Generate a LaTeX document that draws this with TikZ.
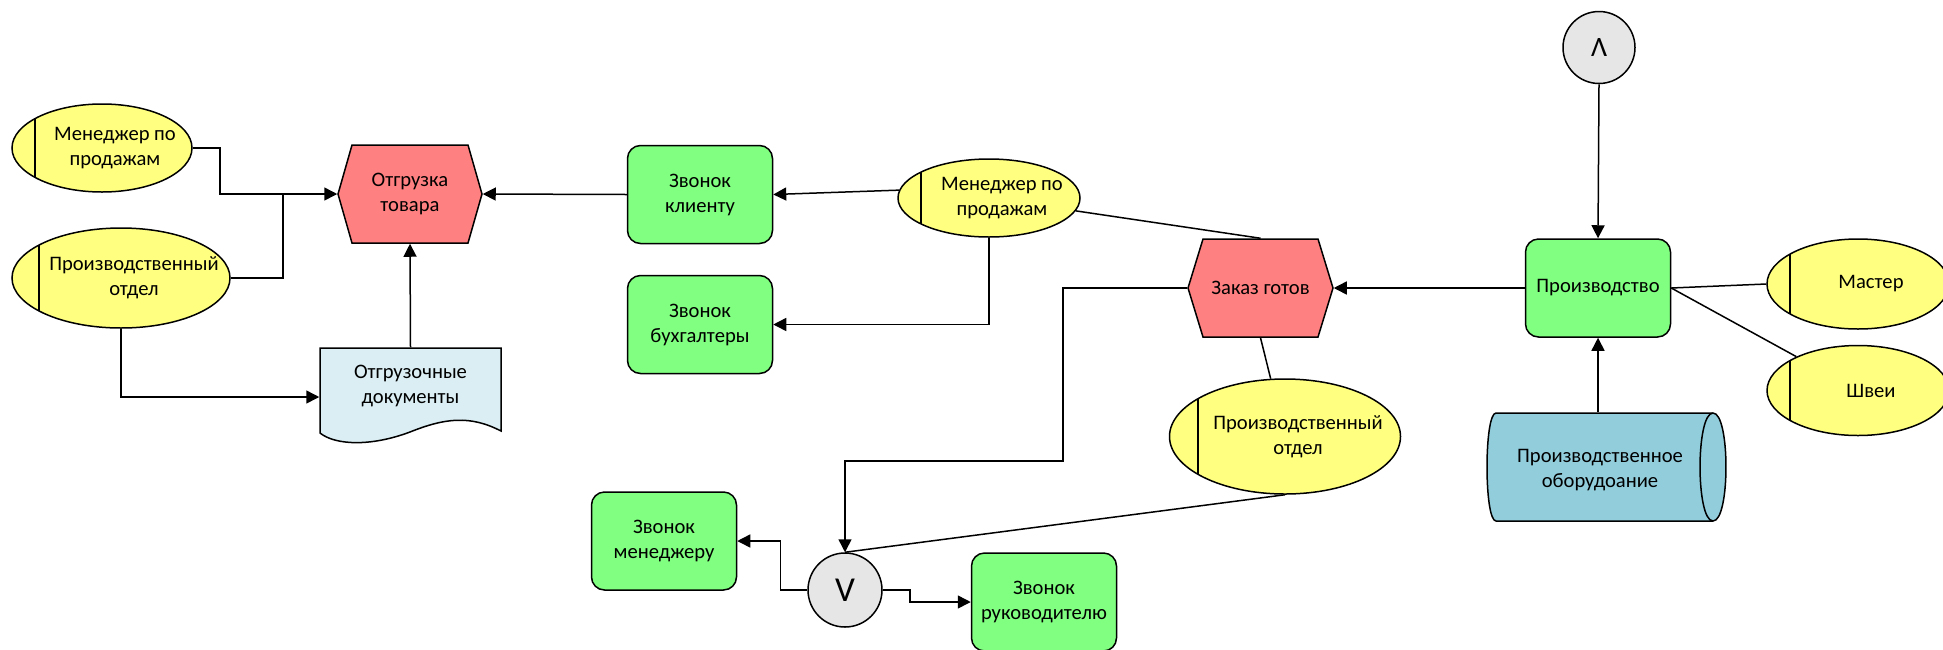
\documentclass[tikz,border=0pt]{standalone}
\usepackage{fontspec}
\setmainfont{Carlito}
\usetikzlibrary{arrows.meta,shapes.geometric,calc}

\definecolor{ouyellow}{HTML}{FFFF80}
\definecolor{fngreen}{HTML}{80FF80}
\definecolor{evred}{HTML}{FF8080}
\definecolor{docblue}{HTML}{DAEEF3}
\definecolor{cylblue}{HTML}{92CDDC}
\definecolor{gategray}{HTML}{E6E6E6}

\begin{document}
\begin{tikzpicture}[x=0.5pt,y=-0.5pt,
  font=\fontsize{10.3}{12.5}\selectfont,
  line width=0.75pt,
  conn/.style={draw, line width=0.75pt},
  arr/.style={conn, -{Triangle[length=6.5pt,width=6.5pt]}},
  func/.style={draw, fill=fngreen, rounded corners=6.5pt, minimum width=72.5pt,
               minimum height=49pt, align=center, inner sep=0pt},
  orgunit/.style 2 args={ellipse, draw, fill=ouyellow, minimum width=#1,
               minimum height=#2, inner sep=0pt,
               path picture={\draw[line width=1pt] ($(path picture bounding box.west)!0.125!(path picture bounding box.east)$)
                             ++(0,-300) -- ++(0,600);}},
  outext/.style={xshift=6.5pt, align=center},
  evshape/.style={draw, fill=evred},
  evnode/.style={minimum width=#1, minimum height=49pt, align=center, inner sep=0pt},
  gate/.style={circle, draw, fill=gategray, minimum size=36pt, inner sep=0pt},
  holder/.style={minimum width=#1, minimum height=49pt, inner sep=0pt, align=center},
]
\useasboundingbox (0,0) rectangle (1943,649);

% --- events (hexagons) ---
\path[evshape] (338,194) -- (352,145) -- (468,145) -- (482,194) -- (468,243) -- (352,243) -- cycle;
\node[evnode=72pt] (otg) at (410,194) {Отгрузка\\товара};
\path[evshape] (1188,288) -- (1203,239) -- (1318,239) -- (1333,288) -- (1318,337) -- (1203,337) -- cycle;
\node[evnode=72.5pt] (zg) at (1260.5,288) {Заказ готов};

% --- functions ---
\node[func] (zk) at (700,194.5) {Звонок\\клиенту};
\node[func] (zb) at (700,324.5) {Звонок\\бухгалтеры};
\node[func] (pr) at (1598,288) {Производство};
\node[func] (zm) at (664,541) {Звонок\\менеджеру};
\node[func] (zr) at (1044,602) {Звонок\\руководителю};

% --- organisational units ---
\node[orgunit={90pt}{44pt}, label={[outext]center:Менеджер по\\продажам}] (m1) at (102,148) {};
\node[orgunit={109pt}{50pt}, label={[outext]center:Производственный\\отдел}] (p1) at (121,278) {};
\node[orgunit={91pt}{39pt}, label={[outext]center:Менеджер по\\продажам}] (m2) at (989,198) {};
\node[orgunit={115.5pt}{57.5pt}, label={[outext]center:Производственный\\отдел}] (p2) at (1285,436.5) {};
\node[orgunit={91pt}{45pt}, label={[outext]center:Мастер}] (ma) at (1858,284) {};
\node[orgunit={91pt}{45pt}, label={[outext]center:Швеи}] (sh) at (1858,390.5) {};

% --- document ---
\path[draw, fill=docblue] (320,348) -- (501,348) -- (501,431)
   .. controls (470,415) and (445,418) .. (410,432)
   .. controls (370,447) and (335,445) .. (320,433) -- cycle;
\node[holder=90.5pt, label={[yshift=5.5pt, align=center]center:Отгрузочные\\документы}] (doc) at (410.5,397) {};

% --- equipment (cylinder) ---
\path[draw, fill=cylblue] (1496,413) -- (1713,413)
   .. controls (1730.3,413) and (1730.3,521) .. (1713,521)
   -- (1496,521)
   .. controls (1484,521) and (1484,413) .. (1496,413) -- cycle;
\draw (1713,413) .. controls (1695.7,413) and (1695.7,521) .. (1713,521);
\node[holder=108pt, minimum height=54pt] (cyl) at (1604.5,467) {};
\node[align=center, inner sep=0pt] (cyltext) at (1600,470) {Производственное\\оборудоание};

% --- logical operators ---
\node[gate, font=\fontsize{14}{16}\selectfont] (and) at (1599,47.5) {Λ};
\node[gate, minimum size=37pt, font=\fontsize{17.5}{20}\selectfont] (or) at (845,590) {V};

% --- connectors ---
\coordinate (j1) at (283,194);
\coordinate (c1) at (1063,461);

\draw[arr] (m1.east) -- ++(27,0) |- (otg.west);
\draw[conn] (p1.east) -| (j1);
\draw[arr] (p1.south) |- (doc.west);
\draw[arr] (doc.north) -- (otg.south);
\draw[arr] (zk.west) -- (otg.east);
\draw[arr] (m2.175) -- (zk.east);
\draw[arr] (m2.south) |- (zb.east);
\draw[conn] (m2) -- (zg.north);
\draw[arr] (pr.west) -- (zg.east);
\draw[conn] (zg.south) -- (p2);
\draw[arr] (and.south) -- (pr.north);
\draw[arr] (cyl.north -| pr.south) -- (pr.south);
\draw[conn] (pr.east) -- (ma.west);
\draw[conn] (pr.east) -- (sh);
\draw[arr] (zg.west) -| (c1) -| (or.north);
\draw[conn] (p2.south) -- (or.north);
\draw[arr] (or.west) -- ++(-27,0) |- (zm.east);
\draw[arr] (or.east) -- ++(27,0) |- (zr.west);
\end{tikzpicture}
\end{document}
